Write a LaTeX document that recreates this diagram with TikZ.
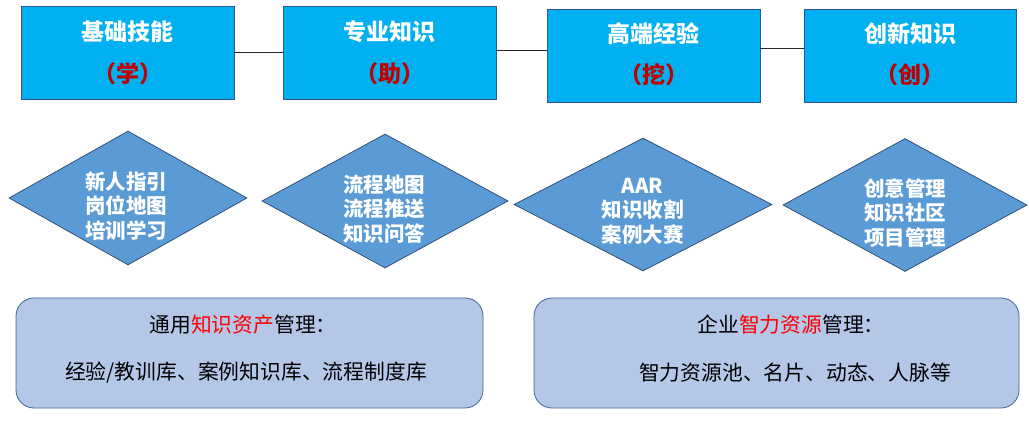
\documentclass[tikz,border=0pt]{standalone}
\usepackage{fontspec}
\setmainfont{Noto Sans CJK SC}
\usetikzlibrary{shapes.geometric}
\definecolor{boxblue}{RGB}{0,176,240}
\definecolor{boxborder}{RGB}{47,85,151}
\definecolor{subred}{RGB}{192,0,0}
\definecolor{diafill}{RGB}{91,155,213}
\definecolor{diaborder}{RGB}{50,80,120}
\definecolor{rectfill}{RGB}{180,199,231}
\definecolor{rectborder}{RGB}{65,100,150}
\definecolor{hired}{RGB}{255,0,0}
\begin{document}
\begin{tikzpicture}[x=1pt,y=-1pt,
  topbox/.style={draw=boxborder, line width=0.8pt, fill=boxblue, minimum height=93pt, inner sep=0pt},
  titletext/.style={text=white, font=\fontsize{23pt}{27pt}\selectfont\bfseries, inner sep=0pt},
  subtext/.style={text=subred, font=\fontsize{23pt}{27pt}\selectfont\bfseries, inner sep=0pt},
  dia/.style={diamond, draw=diaborder, line width=0.8pt, fill=diafill, inner sep=0pt, minimum height=134pt},
  diatext/.style={text=white, align=center, font=\fontsize{20.5pt}{24.5pt}\selectfont\bfseries, inner sep=0pt},
  infobox/.style={draw=rectborder, line width=0.8pt, fill=rectfill, rounded corners=18pt, minimum height=110pt, inner sep=0pt},
  infotext/.style={text=black, font=\fontsize{20.8pt}{24pt}\selectfont, inner sep=0pt},
  link/.style={draw=black!85, line width=0.8pt}
]
\useasboundingbox (0,0) rectangle (1029,422);
\fill[white] (0,0) rectangle (1029,422);

% top boxes
\node[topbox, minimum width=213pt] (b1) at (127.5,52.5) {};
\node[topbox, minimum width=213pt] (b2) at (389.5,52.5) {};
\node[topbox, minimum width=213pt] (b3) at (653.5,55.5) {};
\node[topbox, minimum width=212pt] (b4) at (910,55.5) {};

\node[titletext] (t1) at (127.5,32) {基础技能};
\node[subtext] (s1) at (127.5,74) {（学）};
\node[titletext] (t2) at (389.5,32) {专业知识};
\node[subtext] (s2) at (389.5,74) {（助）};
\node[titletext] (t3) at (653.5,34) {高端经验};
\node[subtext] (s3) at (653.5,75) {（挖）};
\node[titletext] (t4) at (910,34) {创新知识};
\node[subtext] (s4) at (910,75) {（创）};

% connectors
\draw[link] (b1.east) -- (b2.west);
\draw[link] ([yshift=2.5pt]b2.east) -- ([yshift=5.5pt]b3.west);
\draw[link] ([yshift=7.5pt]b3.east) -- ([yshift=7.5pt]b4.west);

% diamonds
\node[dia, minimum width=238pt] (d1) at (128,198) {};
\node[dia, minimum width=246pt] (d2) at (385,201) {};
\node[dia, minimum width=258pt, minimum height=133pt] (d3) at (643,204.5) {};
\node[dia, minimum width=244pt, minimum height=133pt] (d4) at (905,205) {};

\node[diatext] (dt1) at (126,206) {新人指引\\岗位地图\\培训学习};
\node[diatext] (dt2) at (384,209) {流程地图\\流程推送\\知识问答};
\node[diatext] (dt3) at (642.5,211) {AAR\\知识收割\\案例大赛};
\node[diatext] (dt4) at (905,213) {创意管理\\知识社区\\项目管理};

% bottom boxes
\node[infobox, minimum width=467pt] (r1) at (249.5,353) {};
\node[infobox, minimum width=485pt] (r2) at (776.5,353) {};

\node[infotext] (r1a) at (243,325) {通用\textcolor{hired}{知识资产}管理：};
\node[infotext] (r1b) at (246,373) {经验/教训库、案例知识库、流程制度库};
\node[infotext] (r2a) at (791,325) {企业\textcolor{hired}{智力资源}管理：};
\node[infotext] (r2b) at (795,373) {智力资源池、名片、动态、人脉等};
\end{tikzpicture}
\end{document}
